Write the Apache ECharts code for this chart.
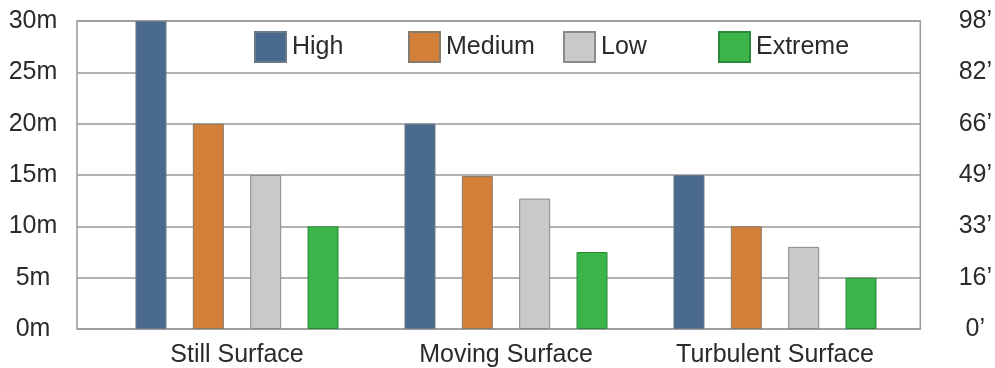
<!DOCTYPE html>
<html>
<head>
<meta charset="utf-8">
<script src="https://cdn.jsdelivr.net/npm/echarts@6/dist/echarts.min.js"></script>
<style>
  html, body { margin: 0; padding: 0; background: #fff; }
  #chart { width: 995px; height: 368px; }
</style>
</head>
<body>
<div id="chart"></div>
<script>
// data
const categories = ['Still Surface', 'Moving Surface', 'Turbulent Surface'];
const seriesNames = ['High', 'Medium', 'Low', 'Extreme'];
const highVals = [30, 20, 15];
const mediumVals = [20, 14.9, 10];
const lowVals = [15, 12.7, 8];
const extremeVals = [10, 7.5, 5];
const meterTicks = [0, 5, 10, 15, 20, 25, 30];
const feetLabels = ['0’', '16’', '33’', '49’', '66’', '82’', '98’'];

const colors = ['#4a6a8d', '#d27f3a', '#c8c9cb', '#3bb54a'];
const borders = ['#6b7a88', '#8a7a6a', '#8a8a8a', '#2a8a3a'];
const font = 'Liberation Sans, Arial, Helvetica, sans-serif';
const textColor = '#2b2b2b';
const legendLeft = [254, 408, 563, 718];

const chart = echarts.init(document.getElementById('chart'));

const valueSets = [highVals, mediumVals, lowVals, extremeVals];
const series = seriesNames.map(function (name, i) {
  return {
    name: name,
    type: 'bar',
    xAxisIndex: 1,
    yAxisIndex: 2,
    barWidth: 31,
    barGap: '85%',
    data: valueSets[i],
    itemStyle: { color: colors[i], borderColor: borders[i], borderWidth: 1 }
  };
});

// one legend per item so they sit at an even pitch
const legends = seriesNames.map(function (name, i) {
  return {
    left: legendLeft[i],
    top: 31,
    padding: 0,
    itemWidth: 31,
    itemHeight: 30,
    icon: 'rect',
    data: [name],
    textStyle: { fontSize: 25, color: textColor, fontFamily: font, padding: [0, 0, 0, 1] }
  };
});

let option = {
  animation: false,
  textStyle: { fontFamily: font },
  legend: legends,
  grid: [
    // frame + split lines
    { left: 77, right: 72, top: 21, bottom: 39, show: true, borderColor: '#999', borderWidth: 1.5 },
    // bars
    { left: 102.5, right: 85.5, top: 21, bottom: 39 }
  ],
  xAxis: [
    { type: 'category', gridIndex: 0, data: categories, show: false },
    {
      type: 'category', gridIndex: 1, data: categories,
      axisLine: { show: false }, axisTick: { show: false },
      axisLabel: { fontSize: 25, color: textColor, margin: 14, fontFamily: font }
    }
  ],
  yAxis: [
    {
      type: 'value', gridIndex: 0, position: 'left', min: 0, max: 30, interval: 5,
      axisLine: { show: false }, axisTick: { show: false },
      splitLine: { lineStyle: { color: '#999', width: 1.5 } },
      axisLabel: {
        fontSize: 25, color: textColor, margin: 44, align: 'center', fontFamily: font,
        formatter: function (v) { return v + 'm'; }
      }
    },
    {
      type: 'value', gridIndex: 0, position: 'right', min: 0, max: 30, interval: 5,
      axisLine: { show: false }, axisTick: { show: false }, splitLine: { show: false },
      axisLabel: {
        fontSize: 25, color: textColor, margin: 55, align: 'center', fontFamily: font,
        formatter: function (v) { return feetLabels[meterTicks.indexOf(v)]; }
      }
    },
    { type: 'value', gridIndex: 1, min: 0, max: 30, interval: 5, show: false }
  ],
  series: series
};

chart.setOption(option);
</script>
</body>
</html>
